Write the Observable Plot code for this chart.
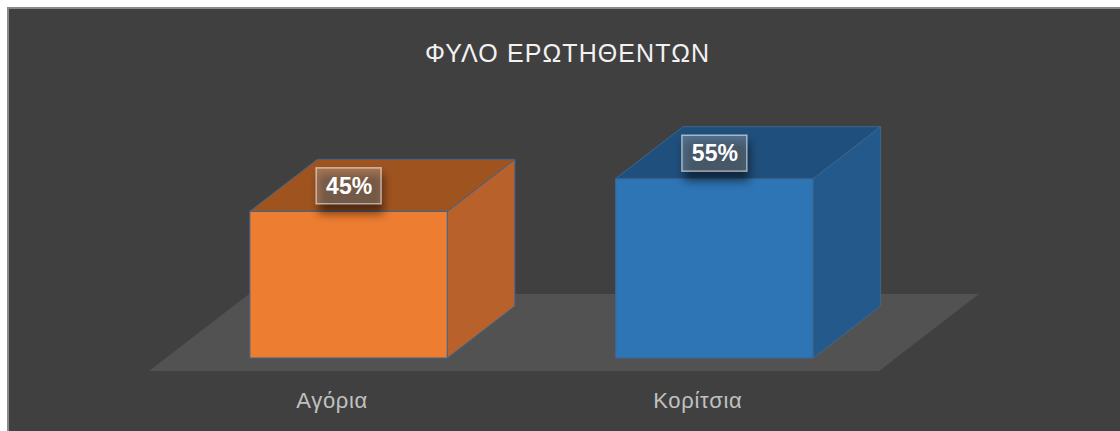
<!DOCTYPE html>
<html><head><meta charset="utf-8">
<script src="https://cdn.jsdelivr.net/npm/d3@7"></script>
<script src="https://cdn.jsdelivr.net/npm/@observablehq/plot@0.6"></script>
<style>
html,body{margin:0;padding:0;background:#fff;}
#wrap{position:relative;width:1120px;height:431px;overflow:hidden;}
#panel{position:absolute;left:7px;top:7px;width:1120px;height:431px;background:#404040;border-left:2px solid #8a8a8a;border-top:2px solid #8a8a8a;}
#chart{position:absolute;left:0;top:0;}
</style></head><body>
<div id="wrap"><div id="panel"></div><div id="chart"></div></div>
<script>
const title = "ΦΥΛΟ ΕΡΩΤΗΘΕΝΤΩΝ";
const categories = ["Αγόρια", "Κορίτσια"];
const values = [45, 55];
const valueLabels = ["45%", "55%"];
const frontColors = ["#ED7D31", "#2E75B6"];
const topColors = ["#9F5420", "#1F4F7C"];
const sideColors = ["#B9612A", "#245A8B"];

const data = categories.map((c, i) => ({
  category: c, value: values[i], label: valueLabels[i],
  front: frontColors[i], top: topColors[i], side: sideColors[i]
}));

const depthX = 67.5, depthY = 52;
const edge = "#3d6690";

function poly(g, pts, fill) {
  return g.append("polygon")
    .attr("points", pts.map(p => p.join(",")).join(" "))
    .attr("fill", fill)
    .attr("stroke", edge)
    .attr("stroke-width", 1)
    .attr("stroke-linejoin", "round");
}

function bandwidth(scales) {
  return typeof scales.x.bandwidth === "function" ? scales.x.bandwidth() : 197.5;
}

function floorMark(index, scales, vals, dim) {
  const g = d3.create("svg:g");
  const base = scales.y(0);
  const xl = dim.marginLeft + 82, xr = dim.width - dim.marginRight - 117;
  const pts = [[xl, base + 13], [xr, base + 13], [xr + 100, base - 64], [xl + 100, base - 64]];
  g.append("polygon").attr("points", pts.map(p => p.join(",")).join(" ")).attr("fill", "#525252");
  return g.node();
}

function depthFaces(index, scales) {
  const g = d3.create("svg:g");
  const bw = bandwidth(scales);
  const yb = scales.y(0);
  for (const d of data) {
    const x0 = scales.x(d.category), x1 = x0 + bw, yt = scales.y(d.value);
    poly(g, [[x1, yt], [x1 + depthX, yt - depthY], [x1 + depthX, yb - depthY], [x1, yb]], d.side);
    poly(g, [[x0, yt], [x1, yt], [x1 + depthX, yt - depthY], [x0 + depthX, yt - depthY]], d.top);
  }
  return g.node();
}

function labelBoxes(index, scales) {
  const g = d3.create("svg:g");
  const defs = g.append("defs");
  defs.append("filter").attr("id", "lblshadow").attr("x", "-50%").attr("y", "-50%").attr("width", "200%").attr("height", "200%")
    .append("feGaussianBlur").attr("stdDeviation", 5);
  const bw = bandwidth(scales);
  for (const d of data) {
    const cx = scales.x(d.category) + bw / 2, cy = scales.y(d.value) - 25.5;
    g.append("rect").attr("x", cx - 30).attr("y", cy - 12).attr("width", 65).attr("height", 40)
      .attr("fill", "#000").attr("fill-opacity", 0.5).attr("filter", "url(#lblshadow)");
    g.append("rect").attr("x", cx - 32.5).attr("y", cy - 18).attr("width", 65).attr("height", 36)
      .attr("fill", "#c8c8c8").attr("fill-opacity", 0.3)
      .attr("stroke", "#ffffff").attr("stroke-opacity", 0.55).attr("stroke-width", 1.5);
  }
  return g.node();
}

const chart = Plot.plot({
  width: 1120,
  height: 431,
  marginLeft: 67,
  marginRight: 124,
  marginTop: 32,
  marginBottom: 73,
  style: {background: "transparent", fontFamily: "'Liberation Sans', Arial, sans-serif", overflow: "visible"},
  x: {type: "band", domain: categories, paddingInner: 0.46, paddingOuter: 0.5, round: false, axis: null},
  y: {domain: [0, 100], axis: null},
  color: {type: "identity"},
  marks: [
    floorMark,
    Plot.barY(data, {x: "category", y: "value", fill: "front", stroke: edge, strokeWidth: 1, inset: 0}),
    depthFaces,
    labelBoxes,
    Plot.text(data, {x: "category", y: "value", text: "label", dy: -25.5, fill: "#ffffff", fontSize: 23, fontWeight: "bold"}),
    Plot.text(data, {x: "category", y: () => 0, text: "category", dx: -17, dy: 42.3, fill: "#c0c0c0", fontSize: 22}),
    Plot.text([title], {frameAnchor: "top", text: d => d, dx: 35.5, dy: 12, fill: "#f2f2f2", fontSize: 25})
  ]
});
const svg = d3.select(chart);
svg.selectAll("text").filter(function() { return this.textContent === title; }).attr("letter-spacing", "1.1px");
svg.selectAll("text").filter(function() { return categories.includes(this.textContent); }).attr("letter-spacing", "0.7px");
document.getElementById("chart").appendChild(chart);
</script>
</body></html>
